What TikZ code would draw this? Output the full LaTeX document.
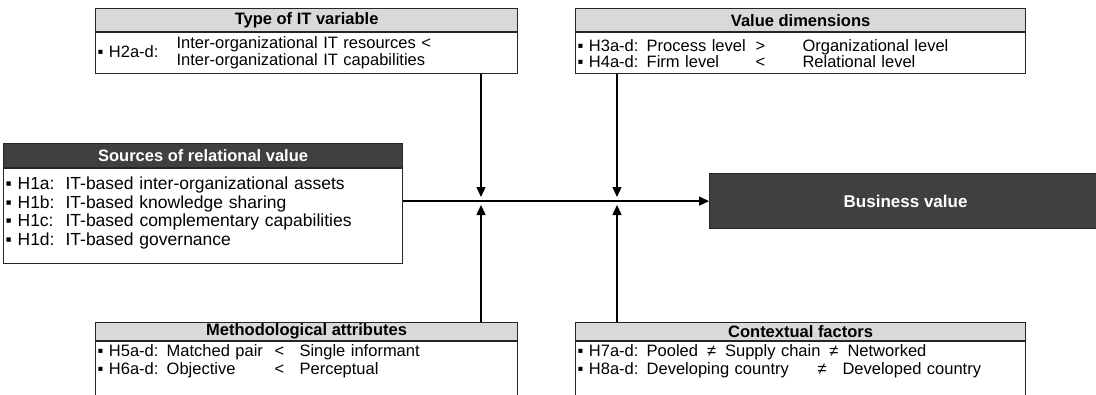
\documentclass[tikz,border=0pt]{standalone}
\usepackage{fontspec}
\setmainfont{Liberation Sans}
\usetikzlibrary{arrows.meta,positioning,calc}
\definecolor{bvLine}{HTML}{262626}
\definecolor{bvHead}{HTML}{D9D9D9}
\definecolor{bvDark}{HTML}{404040}
\tikzset{
  bvhead/.style={
    draw=bvLine, fill=bvHead, line width=1.2pt, inner sep=0pt, anchor=north west,
    font=\fontsize{16.5}{18}\selectfont\bfseries
  },
  bvdarkhead/.style={bvhead, fill=bvDark, text=white},
  bvbody/.style={
    draw=bvLine, fill=white, line width=1.2pt, align=left, anchor=north,
    inner xsep=2pt, inner ysep=0pt, font=\fontsize{16.5}{16}\selectfont
  },
  bvtarget/.style={bvdarkhead, font=\fontsize{17}{18}\selectfont\bfseries},
  effect/.style={-{Triangle[length=10pt,width=9pt]}, line width=1.4pt, black}
}

\begin{document}
\begin{tikzpicture}[x=1pt, y=-1pt]
  \useasboundingbox (0,0) rectangle (1096,394);
  % moderators above the main path
  \node[bvhead, minimum width=422pt, minimum height=23pt] (itvhead) at (95,8) {Type of IT variable};
  \node[bvbody, minimum width=422pt, minimum height=41pt, text width=418pt] (itv) at (itvhead.south)
    {\makebox[79pt][l]{▪ H2a-d:}\begin{tabular}{@{}l@{}}Inter-organizational IT resources <\\ Inter-organizational IT capabilities\end{tabular}};
  \node[bvhead, minimum width=450pt, minimum height=23pt] (vdhead) at (575,8) {Value dimensions};
  \node[bvbody, minimum width=450pt, minimum height=41pt, text width=446pt] (vd) at (vdhead.south)
    {\makebox[178pt][l]{▪ H3a-d: Process level}\makebox[47pt][l]{>}Organizational level\\
     \makebox[178pt][l]{▪ H4a-d: Firm level}\makebox[47pt][l]{<}Relational level};

  % independent and dependent variable
  \node[bvdarkhead, minimum width=399pt, minimum height=24pt] (srchead) at (3,143) {Sources of relational value};
  \node[bvbody, minimum width=399pt, text width=395pt, inner ysep=4pt, text height=17pt, text depth=70pt, font=\fontsize{17.5}{18.5}\selectfont] (src) at (srchead.south)
    {\makebox[60pt][l]{▪ H1a:}IT-based inter-organizational assets\\
     \makebox[60pt][l]{▪ H1b:}IT-based knowledge sharing\\
     \makebox[60pt][l]{▪ H1c:}IT-based complementary capabilities\\
     \makebox[60pt][l]{▪ H1d:}IT-based governance};
  \node[bvtarget, minimum width=392pt, minimum height=55pt] (bv) at (709,173) {Business value};

  % moderators below the main path
  \node[bvhead, minimum width=422pt, minimum height=18pt] (mahead) at (95,322) {Methodological attributes};
  \node[bvbody, minimum width=422pt, text width=418pt, inner ysep=3pt, text depth=60pt, font=\fontsize{16.5}{18}\selectfont] (ma) at (mahead.south)
    {\makebox[177pt][l]{▪ H5a-d: Matched pair}\makebox[25pt][l]{<}Single informant\\
     \makebox[177pt][l]{▪ H6a-d: Objective}\makebox[25pt][l]{<}Perceptual};
  \node[bvhead, minimum width=450pt, minimum height=18pt] (cfhead) at (575,322) {Contextual factors};
  \node[bvbody, minimum width=450pt, text width=446pt, inner ysep=3pt, text depth=60pt, font=\fontsize{16.5}{18}\selectfont] (cf) at (cfhead.south)
    {▪ H7a-d: Pooled\hspace{9pt}≠\hspace{9pt}Supply chain\hspace{9pt}≠\hspace{9pt}Networked\\
     \makebox[240pt][l]{▪ H8a-d: Developing country}\makebox[25pt][l]{≠}Developed country};

  % main path and moderating effects
  \coordinate (j1) at (481,201);
  \coordinate (j2) at (617,201);
  \draw[effect] (src.east |- bv.west) -- (bv.west);
  \draw[effect] (itv.south -| j1) -- ([yshift=4pt]j1);
  \draw[effect] (vd.south -| j2) -- ([yshift=4pt]j2);
  \draw[effect] (mahead.north -| j1) -- ([yshift=-4pt]j1);
  \draw[effect] (cfhead.north -| j2) -- ([yshift=-4pt]j2);
\end{tikzpicture}
\end{document}
